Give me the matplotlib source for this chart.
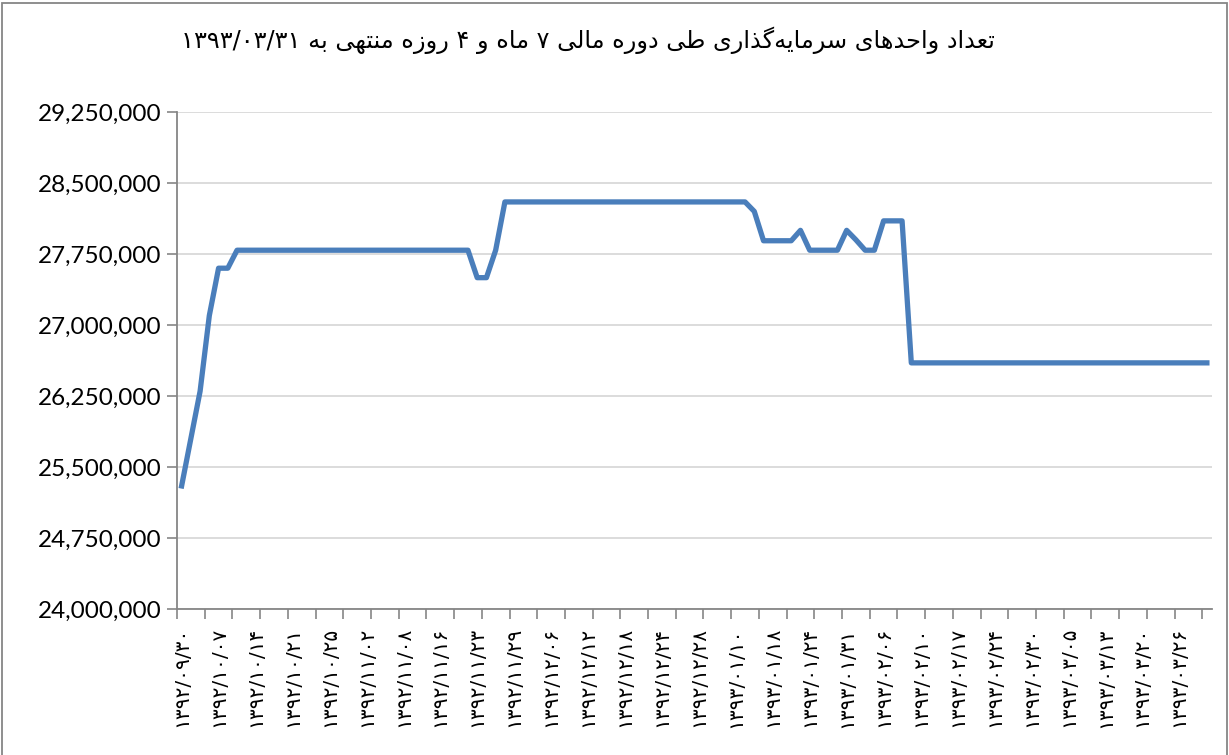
import matplotlib.pyplot as plt
from matplotlib.patches import Rectangle
from matplotlib.ticker import FuncFormatter

# chart data (one value per trading day)
units = [
    25300000, 25800000, 26300000, 27100000, 27600000, 27600000,
    27790000, 27790000, 27790000, 27790000, 27790000, 27790000, 27790000,
    27790000, 27790000, 27790000, 27790000, 27790000, 27790000, 27790000,
    27790000, 27790000, 27790000, 27790000, 27790000, 27790000, 27790000,
    27790000, 27790000, 27790000, 27790000, 27790000,
    27500000, 27500000, 27790000,
    28300000, 28300000, 28300000, 28300000, 28300000, 28300000, 28300000, 28300000, 28300000,
    28300000, 28300000, 28300000, 28300000, 28300000, 28300000, 28300000, 28300000, 28300000,
    28300000, 28300000, 28300000, 28300000, 28300000, 28300000, 28300000, 28300000, 28300000,
    28200000, 27890000, 27890000, 27890000, 27890000,
    28000000, 27790000, 27790000, 27790000, 27790000,
    28000000, 27900000, 27790000, 27790000,
    28100000, 28100000, 28100000,
    26600000, 26600000, 26600000, 26600000, 26600000, 26600000, 26600000, 26600000, 26600000, 26600000, 26600000,
    26600000, 26600000, 26600000, 26600000, 26600000, 26600000, 26600000, 26600000, 26600000, 26600000, 26600000,
    26600000, 26600000, 26600000, 26600000, 26600000, 26600000, 26600000, 26600000, 26600000, 26600000, 26600000,
]

date_labels = [
    "۱۳۹۲/۰۹/۳۰", "۱۳۹۲/۱۰/۰۷", "۱۳۹۲/۱۰/۱۴", "۱۳۹۲/۱۰/۲۱", "۱۳۹۲/۱۰/۲۵",
    "۱۳۹۲/۱۱/۰۲", "۱۳۹۲/۱۱/۰۸", "۱۳۹۲/۱۱/۱۶", "۱۳۹۲/۱۱/۲۳", "۱۳۹۲/۱۱/۲۹",
    "۱۳۹۲/۱۲/۰۶", "۱۳۹۲/۱۲/۱۲", "۱۳۹۲/۱۲/۱۸", "۱۳۹۲/۱۲/۲۴", "۱۳۹۲/۱۲/۲۸",
    "۱۳۹۳/۰۱/۱۰", "۱۳۹۳/۰۱/۱۸", "۱۳۹۳/۰۱/۲۴", "۱۳۹۳/۰۱/۳۱", "۱۳۹۳/۰۲/۰۶",
    "۱۳۹۳/۰۲/۱۰", "۱۳۹۳/۰۲/۱۷", "۱۳۹۳/۰۲/۲۴", "۱۳۹۳/۰۲/۳۰", "۱۳۹۳/۰۳/۰۵",
    "۱۳۹۳/۰۳/۱۳", "۱۳۹۳/۰۳/۲۰", "۱۳۹۳/۰۳/۲۶",
]

y_ticks = [24000000, 24750000, 25500000, 26250000, 27000000,
           27750000, 28500000, 29250000]

title = "تعداد واحدهای سرمایه\u200cگذاری طی دوره مالی ۷ ماه و ۴ روزه منتهی به ۱۳۹۳/۰۳/۳۱"

label_step = 4   # one date label every 4 days
tick_step = 3    # one tick mark every 3 days

# matplotlib has no arabic shaping, so pick the joined glyph forms by hand
# (isolated, final, initial, medial); None = letter does not join forward
FORMS = {
    "ا": ("\uFE8D", "\uFE8E", None, None),
    "ب": ("\uFE8F", "\uFE90", "\uFE91", "\uFE92"),
    "ت": ("\uFE95", "\uFE96", "\uFE97", "\uFE98"),
    "ح": ("\uFEA1", "\uFEA2", "\uFEA3", "\uFEA4"),
    "د": ("\uFEA9", "\uFEAA", None, None),
    "ذ": ("\uFEAB", "\uFEAC", None, None),
    "ر": ("\uFEAD", "\uFEAE", None, None),
    "ز": ("\uFEAF", "\uFEB0", None, None),
    "س": ("\uFEB1", "\uFEB2", "\uFEB3", "\uFEB4"),
    "ط": ("\uFEC1", "\uFEC2", "\uFEC3", "\uFEC4"),
    "ع": ("\uFEC9", "\uFECA", "\uFECB", "\uFECC"),
    "ل": ("\uFEDD", "\uFEDE", "\uFEDF", "\uFEE0"),
    "م": ("\uFEE1", "\uFEE2", "\uFEE3", "\uFEE4"),
    "ن": ("\uFEE5", "\uFEE6", "\uFEE7", "\uFEE8"),
    "ه": ("\uFEE9", "\uFEEA", "\uFEEB", "\uFEEC"),
    "و": ("\uFEED", "\uFEEE", None, None),
    "ی": ("\uFBFC", "\uFBFD", "\uFBFE", "\uFBFF"),
    "گ": ("\uFB92", "\uFB93", "\uFB94", "\uFB95"),
}


def shape_word(word):
    out = []
    for i, ch in enumerate(word):
        if ch not in FORMS:
            if ch != "\u200c":
                out.append(ch)
            continue
        prev = word[i - 1] if i > 0 else ""
        nxt = word[i + 1] if i + 1 < len(word) else ""
        f = FORMS[ch]
        join_prev = prev in FORMS and FORMS[prev][2] is not None
        join_next = f[2] is not None and nxt in FORMS
        if join_prev and join_next:
            out.append(f[3])
        elif join_prev:
            out.append(f[1])
        elif join_next:
            out.append(f[2])
        else:
            out.append(f[0])
    return "".join(out)


def rtl(text):
    words = []
    for w in text.split(" "):
        if any(c in FORMS for c in w):
            words.append(shape_word(w)[::-1])
        else:
            words.append(w)
    return " ".join(words[::-1])


fig = plt.figure(figsize=(12.29, 7.55), dpi=100)
ax = fig.add_axes([177 / 1229, 1 - 609 / 755, (1211.5 - 177) / 1229, (609 - 112) / 755])

x = list(range(len(units)))
ax.plot(x, units, color="#4A7EBB", linewidth=3.8, solid_joinstyle="round", zorder=3)

ax.set_xlim(-0.5, len(units) - 0.5)
ax.set_ylim(y_ticks[0], y_ticks[-1])

ax.set_yticks(y_ticks)
ax.yaxis.set_major_formatter(FuncFormatter(lambda v, p: f"{int(v):,}"))
ax.grid(axis="y", color="#D9D9D9", linewidth=1.3, zorder=0)

# tick marks between days, date labels on every 4th day
ax.set_xticks([i - 0.5 for i in range(0, len(units), tick_step)])
ax.set_xticklabels([])
ax.set_xticks(list(range(0, len(date_labels) * label_step, label_step)), minor=True)
ax.set_xticklabels(date_labels, minor=True, rotation=90, fontsize=14.5,
                   family="DejaVu Sans", va="top")
ax.tick_params(axis="x", which="minor", length=0, pad=13)
ax.tick_params(axis="x", which="major", length=7, width=1.2, color="#868686")
ax.tick_params(axis="y", length=7, width=1.2, color="#868686", labelsize=17.5, pad=4)
for lab in ax.get_yticklabels():
    lab.set_family("Lato")

for side in ["top", "right"]:
    ax.spines[side].set_visible(False)
for side in ["left", "bottom"]:
    ax.spines[side].set_color("#868686")
    ax.spines[side].set_linewidth(1.3)

fig.text(588 / 1229, 1 - 40 / 755, rtl(title), ha="center", va="center",
         fontsize=17.3, family="DejaVu Sans")

fig.patches.append(Rectangle((1.5 / 1229, -0.01), 1225 / 1229, 1 - 3.5 / 755 + 0.01,
                             transform=fig.transFigure, fill=False,
                             edgecolor="#868686", linewidth=1.3))

fig.savefig("out.png", dpi=100)
